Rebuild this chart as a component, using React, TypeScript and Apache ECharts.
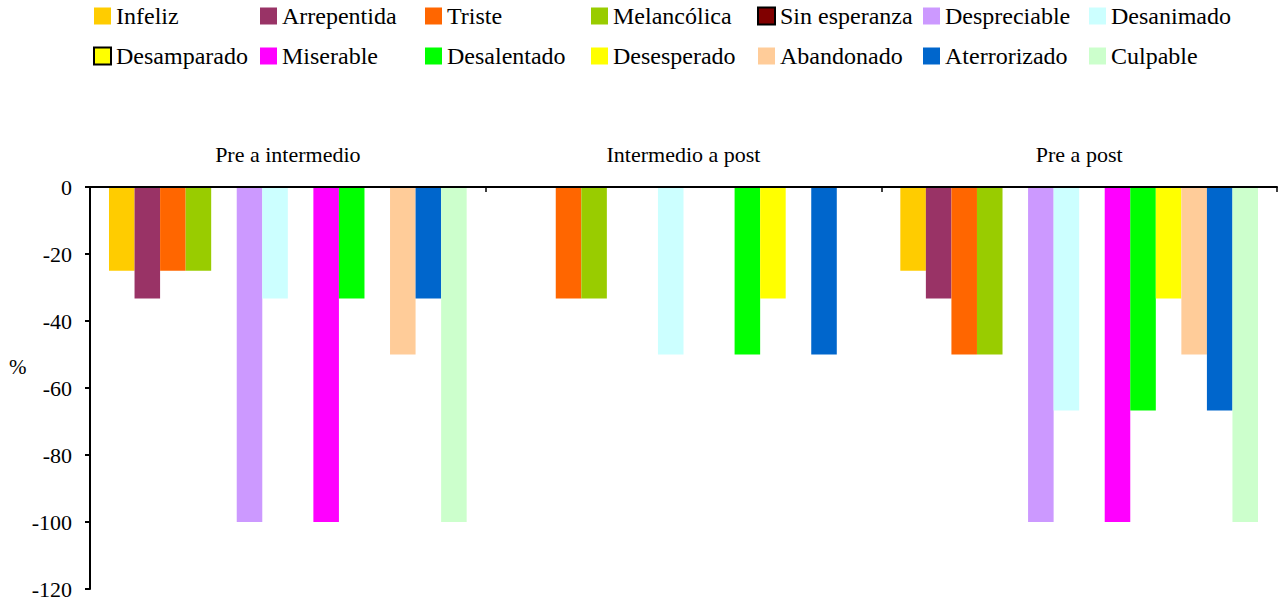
import React, { useEffect, useRef } from "react";
import * as echarts from "echarts";

const FONT = "Liberation Serif";

const categories = ["Pre a intermedio", "Intermedio a post", "Pre a post"];

const seriesNames = [
  "Infeliz",
  "Arrepentida",
  "Triste",
  "Melancólica",
  "Sin esperanza",
  "Despreciable",
  "Desanimado",
  "Desamparado",
  "Miserable",
  "Desalentado",
  "Desesperado",
  "Abandonado",
  "Aterrorizado",
  "Culpable",
];

const seriesColors = [
  "#FFCC00",
  "#993366",
  "#FF6600",
  "#99CC00",
  "#800000",
  "#CC99FF",
  "#CCFFFF",
  "#FFFF00",
  "#FF00FF",
  "#00FF00",
  "#FFFF00",
  "#FFCC99",
  "#0066CC",
  "#CCFFCC",
];

// Percentage change per emotion, one value per comparison
const infeliz = [-25, 0, -25];
const arrepentida = [-33.3, 0, -33.3];
const triste = [-25, -33.3, -50];
const melancolica = [-25, -33.3, -50];
const sinEsperanza = [0, 0, 0];
const despreciable = [-100, 0, -100];
const desanimado = [-33.3, -50, -66.7];
const desamparado = [0, 0, 0];
const miserable = [-100, 0, -100];
const desalentado = [-33.3, -50, -66.7];
const desesperado = [0, -33.3, -33.3];
const abandonado = [-50, 0, -50];
const aterrorizado = [-33.3, -50, -66.7];
const culpable = [-100, 0, -100];

const seriesValues = [
  infeliz,
  arrepentida,
  triste,
  melancolica,
  sinEsperanza,
  despreciable,
  desanimado,
  desamparado,
  miserable,
  desalentado,
  desesperado,
  abandonado,
  aterrorizado,
  culpable,
];

// Legend entries drawn with a black outline
const outlinedEntries = ["Sin esperanza", "Desamparado"];

const legendColumnsX = [93, 260, 425, 591, 757, 923, 1089];

export default function App() {
  const ref = useRef<HTMLDivElement>(null);

  useEffect(() => {
    document.body.style.margin = "0";
    if (!ref.current) return;
    const chart = echarts.init(ref.current, undefined, { renderer: "svg" });

    const legendEntry = (name: string) =>
      outlinedEntries.includes(name)
        ? { name, itemStyle: { borderColor: "#000", borderWidth: 2 } }
        : { name };

    const legends = legendColumnsX.map((x, i) => ({
      orient: "vertical",
      left: x,
      top: 4,
      padding: 0,
      itemWidth: 17,
      itemHeight: 17,
      itemGap: 16,
      icon: "rect",
      selectedMode: false,
      textStyle: {
        fontFamily: FONT,
        fontSize: 24,
        lineHeight: 24,
        color: "#000",
      },
      data: [legendEntry(seriesNames[i]), legendEntry(seriesNames[i + 7])],
    }));

    chart.setOption({
      animation: false,
      textStyle: { fontFamily: FONT, color: "#000" },
      legend: legends,
      grid: { left: 90, right: 5, top: 187, bottom: 13, containLabel: false },
      xAxis: {
        type: "category",
        position: "top",
        data: categories,
        z: 10,
        axisLine: { show: true, lineStyle: { color: "#000", width: 2 } },
        axisTick: { show: true, inside: true, length: 5, lineStyle: { color: "#000", width: 1.5 } },
        axisLabel: { fontFamily: FONT, fontSize: 22, color: "#000", margin: 22 },
        splitLine: { show: false },
      },
      yAxis: {
        type: "value",
        min: -120,
        max: 0,
        interval: 20,
        z: 10,
        axisLine: { show: true, lineStyle: { color: "#000", width: 2 } },
        axisTick: { show: true, length: 5, lineStyle: { color: "#000", width: 2 } },
        axisLabel: { fontFamily: FONT, fontSize: 22, color: "#000", margin: 18 },
        splitLine: { show: false },
      },
      graphic: [
        {
          type: "text",
          left: 9,
          top: 356,
          style: { text: "%", fontFamily: FONT, fontSize: 21, fill: "#000" },
        },
      ],
      series: seriesNames.map((name, i) => ({
        name,
        type: "bar",
        data: seriesValues[i],
        barGap: "0%",
        barCategoryGap: "9.6%",
        itemStyle: { color: seriesColors[i] },
      })),
    });

    return () => chart.dispose();
  }, []);

  return <div ref={ref} style={{ width: 1282, height: 602 }} />;
}
